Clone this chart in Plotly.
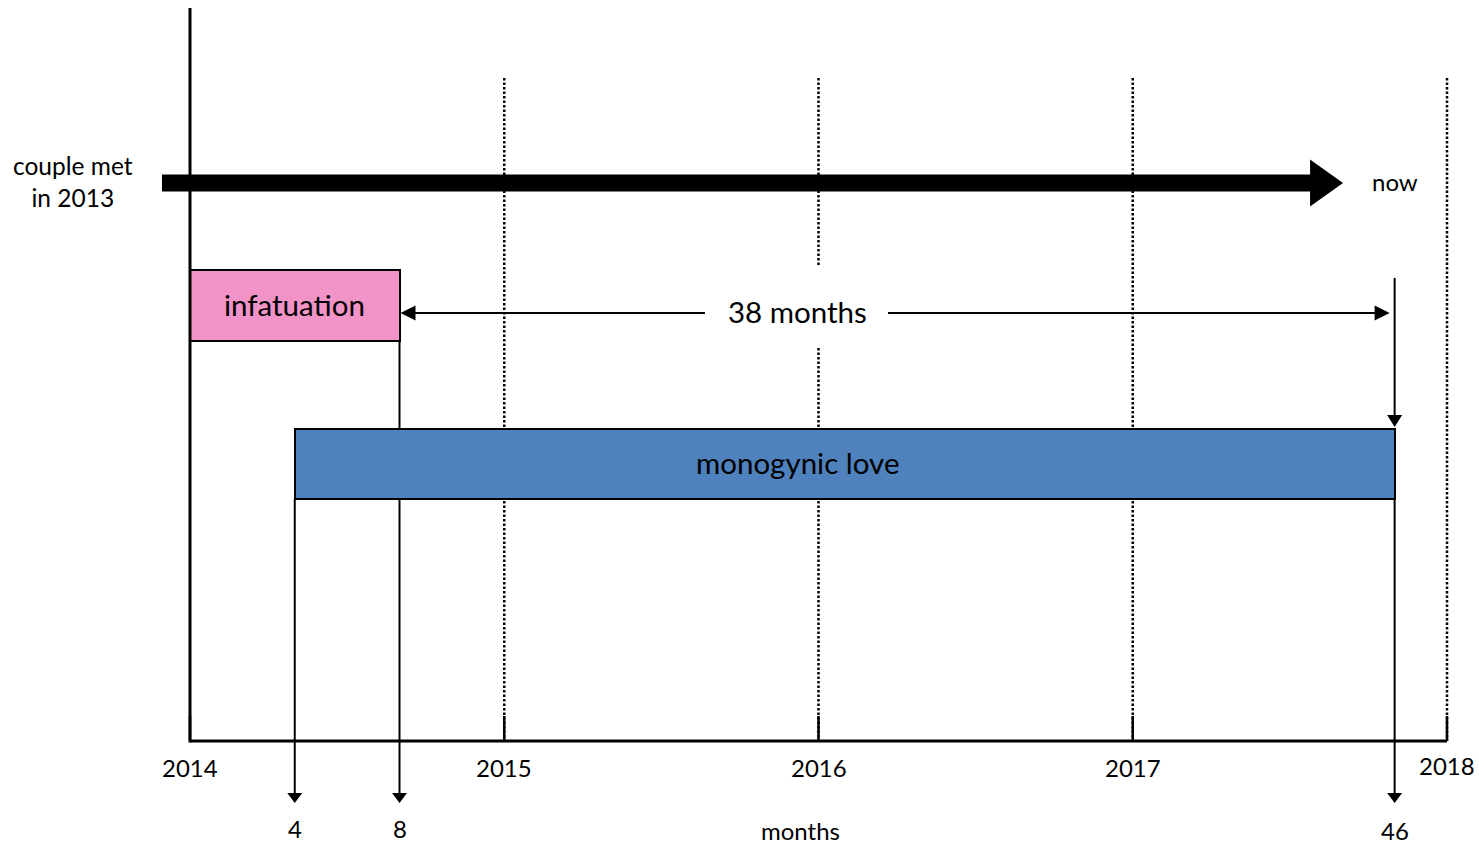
import plotly.graph_objects as go

# ---------------- data ----------------
years = ["2014", "2015", "2016", "2017", "2018"]
year_months = [0, 12, 24, 36, 48]
phase_names = ["infatuation", "monogynic love"]
phase_start = [0, 4]
phase_end = [8, 46]
phase_colors = ["#F293C7", "#4F81BD"]
marker_months = [4, 8, 46]
marker_labels = ["4", "8", "46"]
span_from, span_to = 8, 46
span_label = f"{span_to - span_from} months"
timeline_start = -1.07   # couple met in 2013 (before the axis origin)
timeline_tip = 44.03     # head of the "now" arrow
now_month = 46
axis_label = "months"

# ---------------- geometry / style ----------------
W, H = 1479, 847
PPM = 26.1875   # px per month
X0 = 190        # px position of month 0


def px(d):
    return d / PPM


L = dict(axis_y=741, axis_top=8, grid_top=78, tick_top=716,
         tl_y=183, tl_half=8.5, head_half=23.5, head_len=33,
         lane_y=[305.5, 464], lane_h=[71, 70],
         span_y=313, now_top=278, drop_bot=803,
         year_y=[769, 769, 769, 769, 767], mark_y=[830, 830, 832],
         label_x=23.2, months_y=832,
         box=(705, 888, 267, 347))
FONT = "Lato"
BIG = 29.5
SMALL = 24
TXT_DY = -1.5

fig = go.Figure()

# bars (phases)
fig.add_trace(go.Bar(
    orientation="h",
    y=L["lane_y"],
    x=[e - s for s, e in zip(phase_start, phase_end)],
    base=phase_start,
    width=L["lane_h"],
    marker=dict(color=phase_colors, line=dict(color="black", width=2)),
    hoverinfo="skip", showlegend=False,
))

shapes = []
# dotted year lines + ticks
for m in year_months[1:]:
    shapes.append(dict(type="line", xref="x", yref="y", x0=m, x1=m,
                       y0=L["grid_top"], y1=L["axis_y"], layer="below",
                       line=dict(color="black", width=2.5, dash="2.5px,2px")))
for m in year_months:
    shapes.append(dict(type="line", xref="x", yref="y", x0=m, x1=m,
                       y0=L["tick_top"], y1=L["axis_y"], layer="below",
                       line=dict(color="black", width=2.5)))

# drop lines
drop_tops = {4: 499, 8: 341, 46: 499}
for m in marker_months:
    shapes.append(dict(type="line", xref="x", yref="y", x0=m, x1=m,
                       y0=drop_tops[m], y1=L["drop_bot"] - 5, layer="below",
                       line=dict(color="black", width=2)))
# now line down onto the love bar
shapes.append(dict(type="line", xref="x", yref="y", x0=now_month, x1=now_month,
                   y0=L["now_top"], y1=422, layer="below",
                   line=dict(color="black", width=2)))
# span double arrow line
shapes.append(dict(type="line", xref="x", yref="y", x0=span_from + px(4),
                   x1=span_to - px(10), y0=L["span_y"], y1=L["span_y"],
                   layer="below", line=dict(color="black", width=2)))

# white label box
bx0, bx1, by0, by1 = L["box"]
shapes.append(dict(type="rect", xref="x", yref="y",
                   x0=px(bx0 - X0), x1=px(bx1 - X0), y0=by0, y1=by1,
                   fillcolor="white", line=dict(width=0), layer="above"))


def tri(pts):
    p = "M " + " L ".join(f"{x},{y}" for x, y in pts) + " Z"
    return dict(type="path", xref="x", yref="y", path=p, fillcolor="black",
                line=dict(width=0), layer="above")


# down arrowheads
for m in marker_months:
    tip = L["drop_bot"]
    shapes.append(tri([(m - px(7.5), tip - 10), (m + px(7.5), tip - 10), (m, tip)]))
shapes.append(tri([(now_month - px(7.5), 415), (now_month + px(7.5), 415), (now_month, 427)]))
# span arrowheads
sy = L["span_y"]
lt = span_from + px(1)
shapes.append(tri([(lt, sy), (lt + px(15), sy - 7.5), (lt + px(15), sy + 7.5)]))
rt = span_to - px(5)
shapes.append(tri([(rt, sy), (rt - px(15), sy - 7.5), (rt - px(15), sy + 7.5)]))

# main timeline arrow
hb = timeline_tip - px(L["head_len"])
shapes.append(dict(type="rect", xref="x", yref="y", x0=timeline_start, x1=hb + px(1),
                   y0=L["tl_y"] - L["tl_half"], y1=L["tl_y"] + L["tl_half"],
                   fillcolor="black", line=dict(width=0), layer="above"))
shapes.append(tri([(hb, L["tl_y"] - L["head_half"]), (timeline_tip, L["tl_y"]),
                   (hb, L["tl_y"] + L["head_half"])]))

# axis lines
shapes.append(dict(type="line", xref="x", yref="y", x0=0, x1=0,
                   y0=L["axis_top"], y1=L["axis_y"] + 1.5, layer="above",
                   line=dict(color="black", width=3)))
shapes.append(dict(type="line", xref="x", yref="y", x0=0, x1=year_months[-1],
                   y0=L["axis_y"], y1=L["axis_y"], layer="above",
                   line=dict(color="black", width=3)))

ann = []


def text(x, y, t, size, xref="x"):
    ann.append(dict(x=x, y=y + TXT_DY, xref=xref, yref="y", text=t, showarrow=False,
                    xanchor="center", yanchor="middle",
                    font=dict(family=FONT, size=size, color="black")))


text(phase_start[0] + (phase_end[0] - phase_start[0]) / 2, L["lane_y"][0], phase_names[0], BIG)
text(L["label_x"], L["lane_y"][1], phase_names[1], BIG)
text(L["label_x"], L["span_y"], span_label, BIG)
text(73 / W, L["tl_y"], "couple met<br>in 2013", SMALL + 0.5, xref="paper")
text(now_month, L["tl_y"], "now", SMALL)
for m, y, yy in zip(year_months, years, L["year_y"]):
    text(m, yy, y, SMALL)
for m, lab, yy in zip(marker_months, marker_labels, L["mark_y"]):
    text(m, yy, lab, SMALL)
text(L["label_x"] + 0.1, L["months_y"], axis_label, SMALL)

fig.update_layout(
    width=W, height=H, margin=dict(l=0, r=0, t=0, b=0),
    paper_bgcolor="white", plot_bgcolor="white",
    shapes=shapes, annotations=ann, showlegend=False, bargap=0,
    xaxis=dict(range=[-X0 / PPM, (W - X0) / PPM], visible=False, fixedrange=True),
    yaxis=dict(range=[H, 0], visible=False, fixedrange=True),
)

fig.write_html("out.html", config={"displayModeBar": False},
               post_script="document.body.style.margin='0';document.body.style.overflow='hidden';")
